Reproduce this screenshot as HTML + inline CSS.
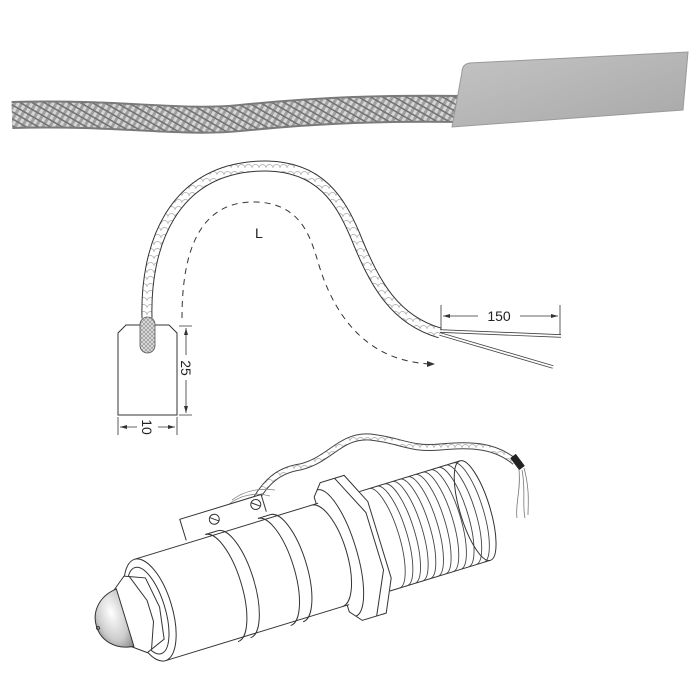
<!DOCTYPE html>
<html><head><meta charset="utf-8"><style>
html,body{margin:0;padding:0;background:#fff}
svg{display:block}
text{font-family:"Liberation Sans",sans-serif;fill:#222}
</style></head><body>
<svg width="690" height="690" viewBox="0 0 690 690" xmlns="http://www.w3.org/2000/svg">
<defs>
<pattern id="braid" width="6" height="6" patternUnits="userSpaceOnUse" patternTransform="rotate(30)">
<rect width="6" height="6" fill="#a0a0a0"/><rect width="3" height="6" fill="#d6d6d6"/><rect y="0" width="6" height="1.5" fill="#707070"/>
</pattern>
<linearGradient id="plate" x1="0" y1="0" x2="1" y2="1"><stop offset="0" stop-color="#c4c4c4"/><stop offset="1" stop-color="#a8a8a8"/></linearGradient>
<radialGradient id="dome" cx="0.6" cy="0.35" r="0.8"><stop offset="0" stop-color="#fff"/><stop offset="0.6" stop-color="#ccc"/><stop offset="1" stop-color="#777"/></radialGradient>
<pattern id="scale" width="7" height="7" patternUnits="userSpaceOnUse"><rect width="7" height="7" fill="#fff"/><path d="M0 7 A3.5 3.5 0 0 1 7 7" fill="none" stroke="#aaa" stroke-width="0.7"/></pattern>
<pattern id="xh" width="4" height="4" patternUnits="userSpaceOnUse"><rect width="4" height="4" fill="#ddd"/><path d="M0 0L4 4M4 0L0 4" stroke="#888" stroke-width="0.6"/></pattern>
</defs>

<!-- top photo -->
<path d="M12 115 C120 112 180 124 240 118 C320 110 380 108 465 109" fill="none" stroke="#7a7a7a" stroke-width="28"/>
<path d="M12 115 C120 112 180 124 240 118 C320 110 380 108 465 109" fill="none" stroke="url(#braid)" stroke-width="24"/>
<path d="M462 72 Q462 64 470 63 L688 52 L683 110 L452 127 Z" fill="url(#plate)" stroke="#999" stroke-width="1"/>

<!-- middle diagram -->
<path d="M147 318 C145 250 170 165 267 166 C320 167 340 200 355 235 C375 285 395 320 440 333" fill="none" stroke="#333" stroke-width="11"/>
<path d="M147 318 C145 250 170 165 267 166 C320 167 340 200 355 235 C375 285 395 320 440 333" fill="none" stroke="url(#scale)" stroke-width="9"/>
<path d="M182 318 C182 250 200 200 257 202 C300 204 310 235 318 262 C335 320 370 362 432 364" fill="none" stroke="#333" stroke-width="1" stroke-dasharray="6,5"/>
<path d="M427 361 L435 364 L427 367 Z" fill="#333"/>
<text x="255" y="238" font-size="14">L</text>
<path d="M118 410 L118 333 L126 325 L169 325 L177 333 L177 415 L118 415 Z" fill="#fff" stroke="#333" stroke-width="1"/>
<rect x="140" y="317" width="15" height="36" rx="7.5" fill="url(#xh)" stroke="#555" stroke-width="0.8"/>
<g stroke="#333" stroke-width="0.8" fill="none">
<path d="M179 326 L192 326 M179 415 L192 415 M186 328 L186 355 M186 380 L186 413"/>
<path d="M118 417 L118 435 M177 417 L177 435 M120 427 L137 427 M158 427 L175 427"/>
<path d="M441 305 L441 336 M560 305 L560 336 M443 316 L478 316 M520 316 L558 316"/>
</g>
<g fill="#333">
<path d="M186 328 L184 335 L188 335Z M186 413 L184 406 L188 406Z"/>
<path d="M120 427 L127 425 L127 429Z M175 427 L168 425 L168 429Z"/>
<path d="M443 316 L450 314 L450 318Z M558 316 L551 314 L551 318Z"/>
</g>
<text transform="translate(181,368) rotate(90)" font-size="14" text-anchor="middle">25</text>
<text transform="translate(142,427) rotate(90)" font-size="14" text-anchor="middle">10</text>
<text x="499" y="321" font-size="14" text-anchor="middle">150</text>
<g fill="none" stroke="#444" stroke-width="3.5"><path d="M440 331 L561 336"/><path d="M440 334 L553 367"/></g>
<g fill="none" stroke="#fff" stroke-width="1.8"><path d="M440 331 L561 336"/><path d="M440 334 L553 367"/></g>

<!-- bottom drawing -->
<g stroke="#333" stroke-width="1" fill="#fff">
<path d="M250 510 C265 480 280 470 300 467 C330 460 340 435 370 437 C400 440 410 450 440 447 C470 444 495 445 515 462" fill="none" stroke="#444" stroke-width="7"/>
<path d="M250 510 C265 480 280 470 300 467 C330 460 340 435 370 437 C400 440 410 450 440 447 C470 444 495 445 515 462" fill="none" stroke="url(#scale)" stroke-width="5"/>
<path d="M513 456 L522 468" stroke="#222" stroke-width="7"/>
<path d="M519 470 C521 490 515 505 517 518 M522 470 C526 490 522 505 525 518 M524 468 C530 490 528 505 528 515" fill="none" stroke="#777" stroke-width="0.8"/>
<path d="M228 505 C240 495 255 492 270 496 M232 500 C245 490 260 488 275 490" fill="none" stroke="#888" stroke-width="0.8"/>
<g transform="translate(150,610) rotate(-17)">
<rect x="235" y="-52" width="105" height="104" fill="#fff" stroke="none"/>
<path d="M235 -52 L340 -52 M235 52 L340 52"/>
<ellipse cx="340" cy="0" rx="15" ry="52"/>
<g fill="none" stroke="#444" stroke-width="0.9">
<path d="M245 -52 A15 52 0 0 1 245 52"/><path d="M253 -52 A15 52 0 0 1 253 52"/><path d="M261 -52 A15 52 0 0 1 261 52"/><path d="M269 -52 A15 52 0 0 1 269 52"/><path d="M277 -52 A15 52 0 0 1 277 52"/><path d="M285 -52 A15 52 0 0 1 285 52"/><path d="M293 -52 A15 52 0 0 1 293 52"/><path d="M301 -52 A15 52 0 0 1 301 52"/><path d="M309 -52 A15 52 0 0 1 309 52"/><path d="M317 -52 A15 52 0 0 1 317 52"/><path d="M325 -52 A15 52 0 0 1 325 52"/><path d="M333 -52 A15 52 0 0 1 333 52"/>
</g>
<path d="M190 -60 L200 -72 L225 -72 L240 -40 L240 40 L225 72 L200 72 L190 60 Z"/>
<path d="M215 -72 L235 -30 L235 30 L215 72" fill="none"/>
<path d="M195 -66 A20 66 0 0 1 195 66" fill="none"/>
<rect x="0" y="-53" width="192" height="106" stroke="none"/>
<path d="M0 -53 L192 -53 M0 53 L192 53" fill="none"/>
<path d="M185 -53 A20 53 0 0 1 185 53" fill="none"/>
<path d="M75 -56 A20 56 0 0 1 75 56 M88 -56 A20 56 0 0 1 88 56 M130 -56 A20 56 0 0 1 130 56 M143 -56 A20 56 0 0 1 143 56" fill="none"/>
<path d="M75 -56 L88 -56 M130 -56 L143 -56" fill="none"/>
<path d="M55 -56 L55 -78 L140 -78 L140 -60" fill="#fff"/>
<circle cx="88" cy="-68" r="5"/><circle cx="132" cy="-70" r="5"/>
<path d="M84 -71 L92 -65 M128 -73 L136 -67" fill="none"/>
<ellipse cx="0" cy="0" rx="22" ry="53"/>
<ellipse cx="-2" cy="0" rx="17" ry="45" fill="none"/>
<path d="M-28 -30 L-15 -40 L5 -32 L10 0 L5 32 L-15 40 L-28 30 Z"/>
<path d="M-10 -38 L0 -10 L0 12 L-10 38" fill="none"/>
<path d="M-26 -30 C-66 -26 -66 26 -26 30 Z" fill="url(#dome)"/>
<circle cx="-55" cy="2" r="1.5" fill="none"/>
</g>
</g>
</svg>
</body></html>
